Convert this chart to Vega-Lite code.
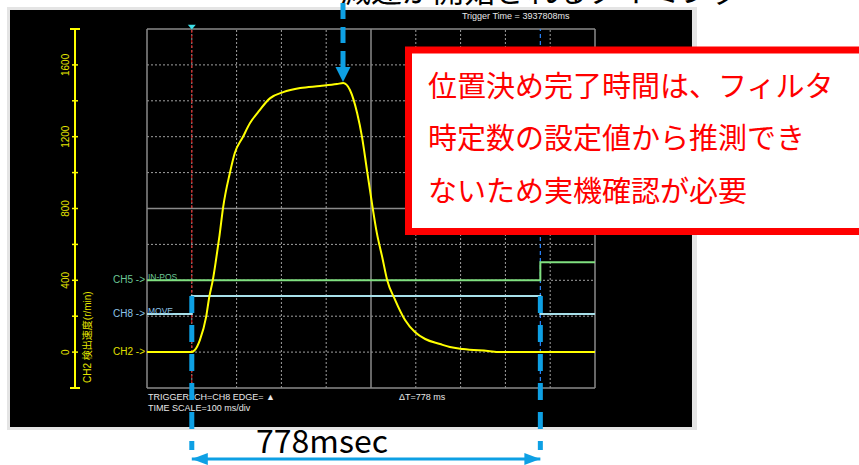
{
 "$schema": "https://vega.github.io/schema/vega-lite/v6.json",
 "width": 448,
 "height": 359,
 "autosize": {"type": "none"},
 "padding": {"left": 147, "top": 29, "right": 264, "bottom": 77},
 "background": "#ffffff",
 "view": {"stroke": null},
 "datasets": {
  "panel": [
   {"part": "frame", "t": -412.5, "t2": 1127.7, "v": 1922.6, "v2": -434},
   {"part": "screen", "t": -405.8, "t2": 1116.5, "v": 1905.8, "v2": -417.3}
  ],
  "vminor": [
   {"t": 0, "v": -200, "v2": 1800}, {"t": 100, "v": -200, "v2": 1800}, {"t": 200, "v": -200, "v2": 1800}, {"t": 300, "v": -200, "v2": 1800},
   {"t": 500, "v": -200, "v2": 1800}, {"t": 600, "v": -200, "v2": 1800}, {"t": 700, "v": -200, "v2": 1800}, {"t": 800, "v": -200, "v2": 1800}
  ],
  "hminor": [
   {"v": 0, "t": -100, "t2": 900}, {"v": 200, "t": -100, "t2": 900}, {"v": 400, "t": -100, "t2": 900}, {"v": 600, "t": -100, "t2": 900},
   {"v": 1000, "t": -100, "t2": 900}, {"v": 1200, "t": -100, "t2": 900}, {"v": 1400, "t": -100, "t2": 900}, {"v": 1600, "t": -100, "t2": 900}
  ],
  "vmajor": [{"t": -100, "v": -200, "v2": 1800}, {"t": 400, "v": -200, "v2": 1800}, {"t": 900, "v": -200, "v2": 1800}],
  "hmajor": [{"v": -200, "t": -100, "t2": 900}, {"v": 800, "t": -100, "t2": 900}, {"v": 1800, "t": -100, "t2": 900}],
  "markers": [{"marker": "trigger", "t": 0, "v": -200, "v2": 1800}, {"marker": "cursor", "t": 778, "v": -200, "v2": 1800}],
  "trigMark": [{"t": 0, "v": 1811}],
  "ruler": [{"t": -260.7, "v": -200, "v2": 1800}],
  "rulerTicks": [
   {"t": -260.7, "v": 0}, {"t": -260.7, "v": 200}, {"t": -260.7, "v": 400}, {"t": -260.7, "v": 600},
   {"t": -260.7, "v": 800}, {"t": -260.7, "v": 1000}, {"t": -260.7, "v": 1200}, {"t": -260.7, "v": 1400}, {"t": -260.7, "v": 1600}
  ],
  "rulerEnds": [{"t": -260.7, "v": -200}, {"t": -260.7, "v": 1800}],
  "rulerLabels": [
   {"t": -281.9, "v": 0, "label": "0"}, {"t": -281.9, "v": 400, "label": "400"}, {"t": -281.9, "v": 800, "label": "800"},
   {"t": -281.9, "v": 1200, "label": "1200"}, {"t": -281.9, "v": 1600, "label": "1600"}
  ],
  "axisTitle": [{"t": -232.8, "v": -172, "label": "CH2  検出速度(r/min)"}],
  "chLabels": [
   {"t": -100, "v": 400, "label": "CH5 ->", "ch": "CH5"},
   {"t": -100, "v": 212, "label": "CH8 ->", "ch": "CH8"},
   {"t": -100, "v": 0, "label": "CH2 ->", "ch": "CH2"}
  ],
  "sigLabels": [
   {"t": -100, "v": 400, "label": "IN-POS", "ch": "CH5"},
   {"t": -100, "v": 212, "label": "MOVE", "ch": "CH8"}
  ],
  "ch2": [
   {"t": -100, "v": 0}, {"t": 0, "v": 0}, {"t": 7, "v": 12}, {"t": 18, "v": 67}, {"t": 32, "v": 196}, {"t": 39, "v": 307},
   {"t": 47, "v": 402}, {"t": 54, "v": 513}, {"t": 62, "v": 652}, {"t": 70, "v": 808}, {"t": 85, "v": 998}, {"t": 96, "v": 1109},
   {"t": 114, "v": 1198}, {"t": 130, "v": 1276}, {"t": 148, "v": 1337}, {"t": 175, "v": 1415}, {"t": 204, "v": 1448},
   {"t": 242, "v": 1471}, {"t": 286, "v": 1482}, {"t": 324, "v": 1493}, {"t": 338, "v": 1499}, {"t": 353, "v": 1460},
   {"t": 369, "v": 1332}, {"t": 380, "v": 1198}, {"t": 391, "v": 1014}, {"t": 402, "v": 831}, {"t": 413, "v": 664},
   {"t": 425, "v": 530}, {"t": 436, "v": 402}, {"t": 454, "v": 290}, {"t": 476, "v": 179}, {"t": 498, "v": 112},
   {"t": 521, "v": 73}, {"t": 554, "v": 45}, {"t": 576, "v": 28}, {"t": 605, "v": 17}, {"t": 661, "v": 6},
   {"t": 688, "v": 0}, {"t": 900, "v": 0}
  ],
  "ch5": [{"t": -100, "v": 400}, {"t": 778, "v": 500}, {"t": 900, "v": 500}],
  "ch8": [{"t": -100, "v": 212}, {"t": 0, "v": 312}, {"t": 778, "v": 212}, {"t": 900, "v": 212}],
  "scopeText": [
   {"t": -97.8, "v": -250, "label": "TRIGGER: CH=CH8 EDGE= ▲"},
   {"t": -97.8, "v": -311, "label": "TIME SCALE=100 ms/div"},
   {"t": 462.5, "v": -250, "label": "ΔT=778 ms"},
   {"t": 603, "v": 1874, "label": "Trigger Time = 3937808ms"}
  ],
  "callout": [{"t": 483.7, "t2": 1700, "v": 1683, "v2": 671.9}],
  "calloutText": [
   {"t": 527.2, "v": 1474, "label": "位置決め完了時間は、フィルタ"},
   {"t": 527.2, "v": 1181.6, "label": "時定数の設定値から推測でき"},
   {"t": 527.2, "v": 886.4, "label": "ないため実機確認が必要"}
  ],
  "headline": [{"t": 330.8, "v": 1911, "label": "減速が開始されるタイミング"}],
  "topArrow": [{"t": 337.5, "v": 1588, "v2": 1975}],
  "topHead": [{"t": 337.5, "v": 1505}],
  "spanLines": [{"t": 0, "v": 312, "v2": -545}, {"t": 778, "v": 312, "v2": -545}],
  "spanArrow": [{"t": 0, "t2": 778, "v": -595.5}],
  "spanHeads": [{"end": "start", "t": 0, "v": -595.5}, {"end": "end", "t": 778, "v": -595.5}],
  "spanLabel": [{"t": 290.6, "v": -509, "label": "778msec"}]
 },
 "encoding": {
  "x": {"field": "t", "type": "quantitative", "scale": {"domain": [-100, 900], "nice": false, "zero": false}, "axis": null},
  "y": {"field": "v", "type": "quantitative", "scale": {"domain": [-200, 1800], "nice": false, "zero": false}, "axis": null}
 },
 "layer": [
  {"data": {"name": "panel"}, "transform": [{"filter": "datum.part == 'frame'"}],
   "mark": {"type": "rect", "color": "#e4e4e4"},
   "encoding": {"x2": {"field": "t2"}, "y2": {"field": "v2"}}},
  {"data": {"name": "panel"}, "transform": [{"filter": "datum.part == 'screen'"}],
   "mark": {"type": "rect", "color": "#000000"},
   "encoding": {"x2": {"field": "t2"}, "y2": {"field": "v2"}}},
  {"data": {"name": "vminor"},
   "mark": {"type": "rule", "color": "#a0a0a0", "strokeWidth": 1, "strokeDash": [2, 2]},
   "encoding": {"y2": {"field": "v2"}}},
  {"data": {"name": "hminor"},
   "mark": {"type": "rule", "color": "#a0a0a0", "strokeWidth": 1, "strokeDash": [2, 2]},
   "encoding": {"x2": {"field": "t2"}}},
  {"data": {"name": "vmajor"},
   "mark": {"type": "rule", "color": "#8a8a8a", "strokeWidth": 1.5},
   "encoding": {"y2": {"field": "v2"}}},
  {"data": {"name": "hmajor"},
   "mark": {"type": "rule", "color": "#8a8a8a", "strokeWidth": 1.5},
   "encoding": {"x2": {"field": "t2"}}},
  {"data": {"name": "markers"}, "transform": [{"filter": "datum.marker == 'trigger'"}],
   "mark": {"type": "rule", "color": "#e02020", "strokeWidth": 1, "strokeDash": [3, 2]},
   "encoding": {"y2": {"field": "v2"}}},
  {"data": {"name": "markers"}, "transform": [{"filter": "datum.marker == 'cursor'"}],
   "mark": {"type": "rule", "color": "#2a86ff", "strokeWidth": 1.2, "strokeDash": [4, 3]},
   "encoding": {"y2": {"field": "v2"}}},
  {"data": {"name": "trigMark"},
   "mark": {"type": "point", "shape": "M -1 -0.6 L 1 -0.6 L 0 0.6 Z", "size": 64, "filled": true, "color": "#3ee0e8", "opacity": 1}},
  {"data": {"name": "ruler"},
   "mark": {"type": "rule", "color": "#ffff00", "strokeWidth": 2},
   "encoding": {"y2": {"field": "v2"}}},
  {"data": {"name": "rulerTicks"},
   "mark": {"type": "tick", "orient": "horizontal", "size": 6, "thickness": 1.5, "color": "#ffff00", "opacity": 1}},
  {"data": {"name": "rulerEnds"},
   "mark": {"type": "tick", "orient": "horizontal", "size": 10, "thickness": 2, "color": "#ffff00", "opacity": 1}},
  {"data": {"name": "rulerLabels"},
   "mark": {"type": "text", "angle": 270, "align": "center", "baseline": "middle", "fontSize": 10, "color": "#e6e600", "font": "Liberation Sans"},
   "encoding": {"text": {"field": "label"}}},
  {"data": {"name": "axisTitle"},
   "mark": {"type": "text", "angle": 270, "align": "left", "baseline": "middle", "fontSize": 10, "color": "#e6e600", "font": "Liberation Sans, Noto Sans CJK JP"},
   "encoding": {"text": {"field": "label"}}},
  {"data": {"name": "chLabels"},
   "mark": {"type": "text", "align": "right", "baseline": "middle", "dx": -2, "fontSize": 10, "font": "Liberation Sans"},
   "encoding": {"text": {"field": "label"},
    "color": {"field": "ch", "type": "nominal", "scale": {"domain": ["CH5", "CH8", "CH2"], "range": ["#6cc896", "#8cc4e8", "#e0e000"]}, "legend": null}}},
  {"data": {"name": "ch5"},
   "mark": {"type": "line", "interpolate": "step-after", "color": "#80e080", "strokeWidth": 2}},
  {"data": {"name": "ch8"},
   "mark": {"type": "line", "interpolate": "step-after", "color": "#a8e0ea", "strokeWidth": 2}},
  {"data": {"name": "ch2"},
   "mark": {"type": "line", "interpolate": "monotone", "color": "#ffff00", "strokeWidth": 2}},
  {"data": {"name": "sigLabels"},
   "mark": {"type": "text", "align": "left", "baseline": "alphabetic", "dx": 1, "dy": -0.5, "fontSize": 8.5, "font": "Liberation Sans"},
   "encoding": {"text": {"field": "label"},
    "color": {"field": "ch", "type": "nominal", "scale": {"domain": ["CH5", "CH8", "CH2"], "range": ["#6cc896", "#8cc4e8", "#e0e000"]}, "legend": null}}},
  {"data": {"name": "scopeText"},
   "mark": {"type": "text", "align": "left", "baseline": "middle", "fontSize": 9, "color": "#e8e8e8", "font": "Liberation Sans"},
   "encoding": {"text": {"field": "label"}}},
  {"data": {"name": "callout"},
   "mark": {"type": "rect", "fill": "#ffffff", "stroke": "#ff0000", "strokeWidth": 7},
   "encoding": {"x2": {"field": "t2"}, "y2": {"field": "v2"}}},
  {"data": {"name": "calloutText"},
   "mark": {"type": "text", "align": "left", "baseline": "middle", "fontSize": 29, "color": "#ff0000", "font": "Noto Sans CJK JP"},
   "encoding": {"text": {"field": "label"}}},
  {"data": {"name": "headline"},
   "mark": {"type": "text", "align": "left", "baseline": "bottom", "fontSize": 31, "color": "#000000", "font": "Noto Sans CJK JP"},
   "encoding": {"text": {"field": "label"}}},
  {"data": {"name": "topArrow"},
   "mark": {"type": "rule", "color": "#0ea0e4", "strokeWidth": 5, "strokeDash": [16, 8], "strokeCap": "butt"},
   "encoding": {"y2": {"field": "v2"}}},
  {"data": {"name": "topHead"},
   "mark": {"type": "point", "shape": "M 0 0 L -1 -2 L 1 -2 Z", "size": 225, "filled": true, "color": "#0ea0e4", "opacity": 1}},
  {"data": {"name": "spanLines"},
   "mark": {"type": "rule", "color": "#0ea0e4", "strokeWidth": 5, "strokeDash": [17, 12], "strokeCap": "butt"},
   "encoding": {"y2": {"field": "v2"}}},
  {"data": {"name": "spanArrow"},
   "mark": {"type": "rule", "color": "#0ea0e4", "strokeWidth": 3},
   "encoding": {"x2": {"field": "t2"}}},
  {"data": {"name": "spanHeads"}, "transform": [{"filter": "datum.end == 'start'"}],
   "mark": {"type": "point", "shape": "M 0 0 L 2 -0.75 L 2 0.75 Z", "size": 256, "filled": true, "color": "#0ea0e4", "opacity": 1}},
  {"data": {"name": "spanHeads"}, "transform": [{"filter": "datum.end == 'end'"}],
   "mark": {"type": "point", "shape": "M 0 0 L -2 -0.75 L -2 0.75 Z", "size": 256, "filled": true, "color": "#0ea0e4", "opacity": 1}},
  {"data": {"name": "spanLabel"},
   "mark": {"type": "text", "align": "center", "baseline": "middle", "fontSize": 32, "color": "#000000", "font": "Noto Sans CJK JP"},
   "encoding": {"text": {"field": "label"}}}
 ]
}
